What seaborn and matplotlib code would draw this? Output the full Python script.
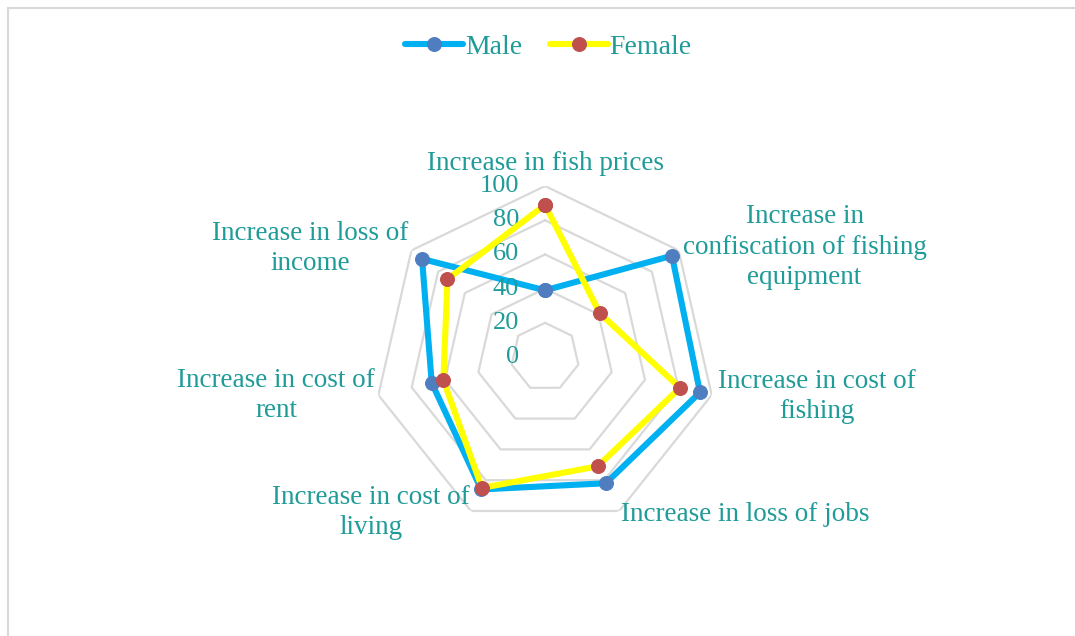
import numpy as np
import pandas as pd
import matplotlib
matplotlib.use("Agg")
import matplotlib.pyplot as plt
import matplotlib.transforms as mtransforms
from matplotlib.patches import Rectangle
import seaborn as sns

# chart data
categories = [
    "Increase in fish prices",
    "Increase in\nconfiscation of fishing\nequipment",
    "Increase in cost of\nfishing",
    "Increase in loss of jobs",
    "Increase in cost of\nliving",
    "Increase in cost of\nrent",
    "Increase in loss of\nincome",
]
male = [39, 95, 93, 82, 86, 68, 92]
female = [89, 41, 81, 71, 85, 61, 73]
ring_ticks = [0, 20, 40, 60, 80, 100]

teal = "#1f9b98"
sns.set_theme(style="white")
plt.rcParams["font.family"] = ["Liberation Serif", "DejaVu Serif"]

fig = plt.figure(figsize=(10.75, 6.36), dpi=100)
fig.patch.set_facecolor("white")
# chart border (light grey, only top/left visible)
fig.patches.append(Rectangle((8 / 1075, -0.1), 1.2, 1 - 8 / 636 + 0.1,
                             transform=fig.transFigure, fill=False,
                             edgecolor="#d9d9d9", lw=1.5))

ax = fig.add_axes([0.507 - 0.159, 0.4387 - 0.2689, 0.318, 0.5378], polar=True)
ax.set_theta_zero_location("N")
ax.set_theta_direction(-1)
ax.set_ylim(0, 100)
ax.grid(False)
ax.spines["polar"].set_visible(False)
ax.set_xticks([])
ax.set_yticks([])
ax.set_facecolor("none")

n = len(categories)
theta = np.linspace(0, 2 * np.pi, n, endpoint=False)
theta_closed = np.append(theta, theta[0])

# heptagon gridlines
for r in ring_ticks[1:]:
    ax.plot(theta_closed, [r] * (n + 1), color="#d9d9d9", lw=1.6, zorder=1)

df = pd.DataFrame({
    "theta": np.concatenate([theta_closed, theta_closed]),
    "value": male + [male[0]] + female + [female[0]],
    "series": ["Male"] * (n + 1) + ["Female"] * (n + 1),
})

sns.lineplot(data=df[df.series == "Male"], x="theta", y="value", ax=ax,
             sort=False, estimator=None, color="#00b0f0", lw=4.4,
             marker="o", ms=10, mfc="#4f7ec0", mec="#4f7ec0", label="Male",
             zorder=3)
sns.lineplot(data=df[df.series == "Female"], x="theta", y="value", ax=ax,
             sort=False, estimator=None, color="#ffff00", lw=4.4,
             marker="o", ms=10, mfc="#c0504d", mec="#c0504d", label="Female",
             zorder=4)
ax.set_xlabel("")
ax.set_ylabel("")
if ax.get_legend() is not None:
    ax.get_legend().remove()

# radial tick labels left of the top spoke
off = mtransforms.offset_copy(ax.transData, fig=fig, x=-26, y=0, units="dots")
for r in ring_ticks:
    ax.text(0, r, str(r), transform=off, ha="right", va="center",
            fontsize=19, color=teal)

# category labels
label_pos = [(106, "center", "bottom"), (103, "left", "center"),
             (104, "left", "center"), (102, "left", "center"),
             (101, "right", "center"), (102, "right", "center"),
             (102, "right", "center")]
for t, lab, (r, ha, va) in zip(theta, categories, label_pos):
    ax.text(t, r, lab, ha=ha, va=va, multialignment="center",
            fontsize=19.5, color=teal, linespacing=1.28, clip_on=False)

handles, labels = ax.get_legend_handles_labels()
fig.legend(handles, labels, loc="center", bbox_to_anchor=(0.51, 1 - 47 / 636),
           ncol=2, frameon=False, fontsize=20, labelcolor=teal,
           handlelength=2.1, handletextpad=0.05, columnspacing=1.0)

fig.savefig("out.png", dpi=100, facecolor="white")
